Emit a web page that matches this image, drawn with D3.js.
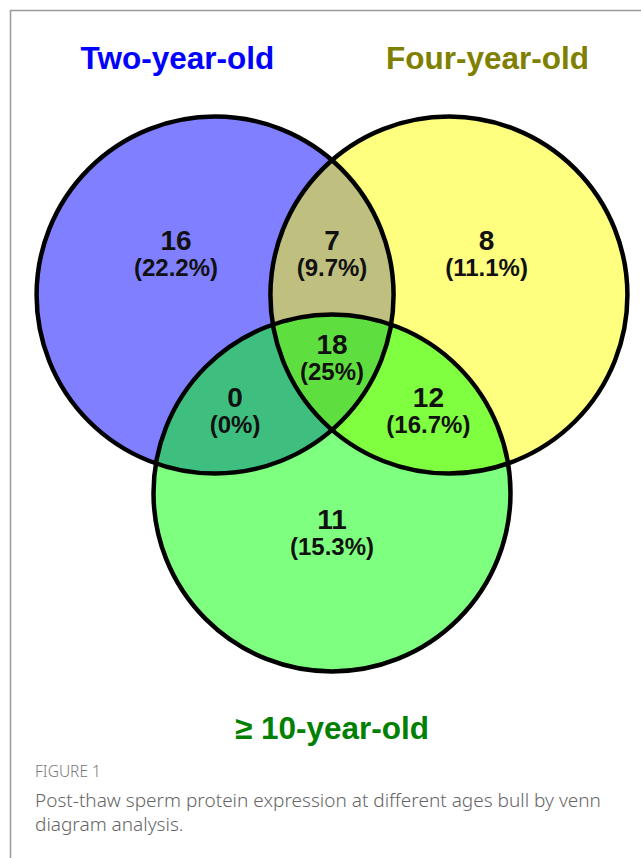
<!DOCTYPE html>
<html>
<head>
<meta charset="utf-8">
<script src="https://cdn.jsdelivr.net/npm/d3@7"></script>
<style>
    html, body { margin: 0; padding: 0; background: #fff; }
    svg { display: block; }
</style>
</head>
<body>
<svg id="chart" width="641" height="858"></svg>
<script>
// sets of the venn diagram
var setNames = ['Two-year-old', 'Four-year-old', '\u2265 10-year-old'],
    setColors = ['#0000ff', '#ffff00', '#00ff00'],
    titleColors = ['#0000ff', '#808000', '#008000'];

// regions: A only, A&B, B only, A&B&C, A&C, B&C, C only
var regionKeys = ['A', 'AB', 'B', 'ABC', 'AC', 'BC', 'C'],
    regionCounts = [16, 7, 8, 18, 0, 12, 11],
    regionPercents = ['22.2%', '9.7%', '11.1%', '25%', '0%', '16.7%', '15.3%'];

// layout, in circle-radius units around the middle of the diagram
var circleCenters = [[-0.655, -0.364], [0.655, -0.364], [0, 0.745]],
    labelAnchors = [[-0.874, -0.617], [0, -0.617], [0.866, -0.617],
                    [0, -0.034], [-0.543, 0.263], [0.54, 0.263], [0, 0.946]],
    titleAnchors = [[-0.866, -1.63], [0.871, -1.63], [0, 2.123]];

var svg = d3.select('#chart'),
    unit = 178.5,
    x = d3.scaleLinear().domain([-1, 1]).range([332 - unit, 332 + unit]),
    y = d3.scaleLinear().domain([-1, 1]).range([360 - unit, 360 + unit]),
    r = x(1) - x(0);

// frame round the figure
svg.append('path')
    .attr('d', 'M10.5,858 V10.5 H641')
    .attr('fill', 'none')
    .attr('stroke', '#9a9a9a')
    .attr('stroke-width', 1.5);

var circles = setNames.map(function(name, i) {
    return {name: name, color: setColors[i], cx: circleCenters[i][0], cy: circleCenters[i][1]};
});

// half transparent fills give the mixed colours of the overlaps
svg.append('g').selectAll('circle')
    .data(circles)
    .enter().append('circle')
    .attr('cx', function(d) { return x(d.cx); })
    .attr('cy', function(d) { return y(d.cy); })
    .attr('r', r)
    .attr('fill', function(d) { return d.color; })
    .attr('fill-opacity', 0.5);

svg.append('g').selectAll('circle')
    .data(circles)
    .enter().append('circle')
    .attr('cx', function(d) { return x(d.cx); })
    .attr('cy', function(d) { return y(d.cy); })
    .attr('r', r)
    .attr('fill', 'none')
    .attr('stroke', '#000')
    .attr('stroke-width', 4.5);

// set titles
svg.append('g').selectAll('text')
    .data(setNames)
    .enter().append('text')
    .attr('x', function(d, i) { return x(titleAnchors[i][0]); })
    .attr('y', function(d, i) { return y(titleAnchors[i][1]); })
    .attr('text-anchor', 'middle')
    .attr('font-family', 'Liberation Sans, Arial, sans-serif')
    .attr('font-weight', 'bold')
    .attr('font-size', 31.5)
    .attr('fill', function(d, i) { return titleColors[i]; })
    .text(function(d) { return d; });

// region labels
var regions = regionKeys.map(function(k, i) {
    return {key: k, count: regionCounts[i], pct: regionPercents[i], pos: labelAnchors[i]};
});

var label = svg.append('g').selectAll('g')
    .data(regions)
    .enter().append('g')
    .attr('transform', function(d) { return 'translate(' + x(d.pos[0]) + ',' + y(d.pos[1]) + ')'; })
    .attr('font-family', 'Liberation Sans, Arial, sans-serif')
    .attr('font-weight', 'bold')
    .attr('text-anchor', 'middle')
    .attr('fill', '#111');

label.append('text')
    .attr('font-size', 28)
    .text(function(d) { return d.count; });

label.append('text')
    .attr('y', 26)
    .attr('font-size', 24)
    .text(function(d) { return '(' + d.pct + ')'; });

// caption
var caption = svg.append('g')
    .attr('font-family', 'Noto Sans, Open Sans, sans-serif')
    .attr('font-weight', 300)
    .attr('fill', '#666');

caption.append('text')
    .attr('x', 35)
    .attr('y', 777)
    .attr('font-size', 15.5)
    .attr('fill', '#777')
    .text('FIGURE 1');

caption.append('text')
    .attr('x', 35)
    .attr('y', 807)
    .attr('font-size', 19)
    .text('Post-thaw sperm protein expression at different ages bull by venn');

caption.append('text')
    .attr('x', 35)
    .attr('y', 831)
    .attr('font-size', 19)
    .text('diagram analysis.');
</script>
</body>
</html>
